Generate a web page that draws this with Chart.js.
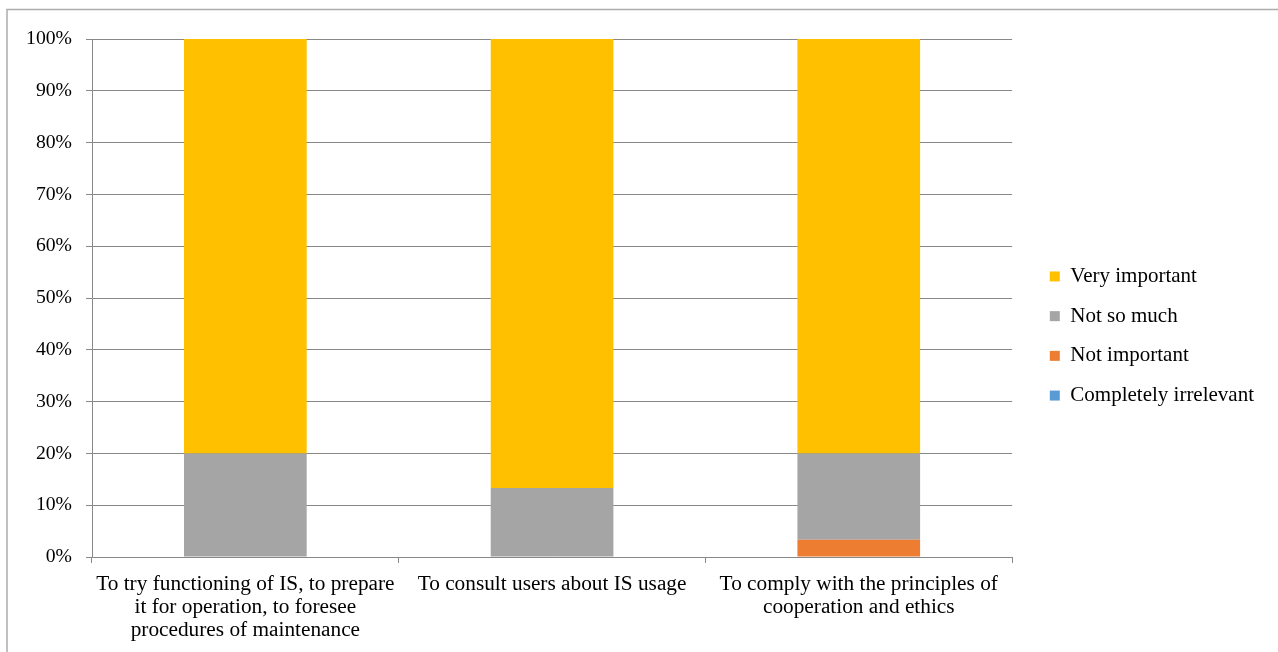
<!DOCTYPE html>
<html>
<head>
<meta charset="utf-8">
<script src="https://cdn.jsdelivr.net/npm/chart.js@4"></script>
<style>
  html, body { margin: 0; padding: 0; background: #fff; }
  #wrap { width: 1278px; height: 652px; }
</style>
</head>
<body>
<div id="wrap"><canvas id="importanceChart" width="1278" height="652"></canvas></div>
<script>
// categories (one per bar), label lines as Excel wraps them
const categories = [
  ['To try functioning of IS, to prepare', 'it for operation, to foresee', 'procedures of maintenance'],
  ['To consult users about IS usage'],
  ['To comply with the principles of', 'cooperation and ethics']
];

// share of answers, percent (stacked bottom -> top)
const completelyIrrelevant = [0, 0, 0];
const notImportant = [0, 0, 3.33];
const notSoMuch = [20, 13.33, 16.67];
const veryImportant = [80, 86.67, 80];

const yTicks = [0, 10, 20, 30, 40, 50, 60, 70, 80, 90, 100];

const serif = 'Liberation Serif';
const gridGray = '#888888';

// gray frame round the chart, top and left edges only show
const frame = {
  id: 'frame',
  beforeDraw(chart) {
    const ctx = chart.ctx;
    ctx.save();
    ctx.strokeStyle = '#acacac';
    ctx.lineWidth = 1.5;
    ctx.strokeRect(7, 9.5, chart.width + 20, chart.height + 20);
    ctx.restore();
  }
};

const ctx = document.getElementById('importanceChart').getContext('2d');
new Chart(ctx, {
  type: 'bar',
  data: {
    labels: categories,
    datasets: [
      { label: 'Completely irrelevant', data: completelyIrrelevant, backgroundColor: '#5B9BD5' },
      { label: 'Not important', data: notImportant, backgroundColor: '#ED7D31' },
      { label: 'Not so much', data: notSoMuch, backgroundColor: '#A5A5A5' },
      { label: 'Very important', data: veryImportant, backgroundColor: '#FFC000' }
    ]
  },
  options: {
    responsive: false,
    animation: false,
    devicePixelRatio: 1,
    datasets: {
      bar: { barPercentage: 0.4, categoryPercentage: 1, borderWidth: 0 }
    },
    layout: {
      padding: { top: 39, left: 0, right: 14, bottom: 0 }
    },
    plugins: {
      tooltip: { enabled: false },
      legend: {
        position: 'right',
        fullSize: false,
        reverse: true,
        // empty title only pushes the items down to where Excel puts them
        title: {
          display: true,
          text: '',
          font: { size: 13, lineHeight: 1 },
          padding: { top: 0, bottom: 63 }
        },
        labels: {
          font: { family: serif, size: 21 },
          color: '#000',
          boxWidth: 10,
          boxHeight: 10,
          padding: 18.7
        }
      }
    },
    scales: {
      x: {
        stacked: true,
        grid: {
          offset: true,
          drawOnChartArea: false,
          drawTicks: true,
          tickLength: 6,
          color: gridGray
        },
        border: { color: gridGray },
        ticks: {
          font: { family: serif, size: 21.3, lineHeight: '23px' },
          color: '#000',
          padding: 10,
          maxRotation: 0,
          autoSkip: false
        },
        afterFit(scale) { scale.height = 95; }
      },
      y: {
        stacked: true,
        min: 0,
        max: 100,
        grid: { color: gridGray, tickLength: 6 },
        border: { color: gridGray },
        afterBuildTicks(scale) {
          scale.ticks = yTicks.map(v => ({ value: v }));
        },
        ticks: {
          font: { family: serif, size: 19.7 },
          color: '#000',
          padding: 14,
          callback: v => v + '%'
        },
        afterFit(scale) { scale.width = 92; }
      },
      // hidden spacer between plot area and legend
      gap: {
        position: 'right',
        display: false,
        afterFit(scale) { scale.width = 19; }
      }
    }
  },
  plugins: [frame]
});
</script>
</body>
</html>
